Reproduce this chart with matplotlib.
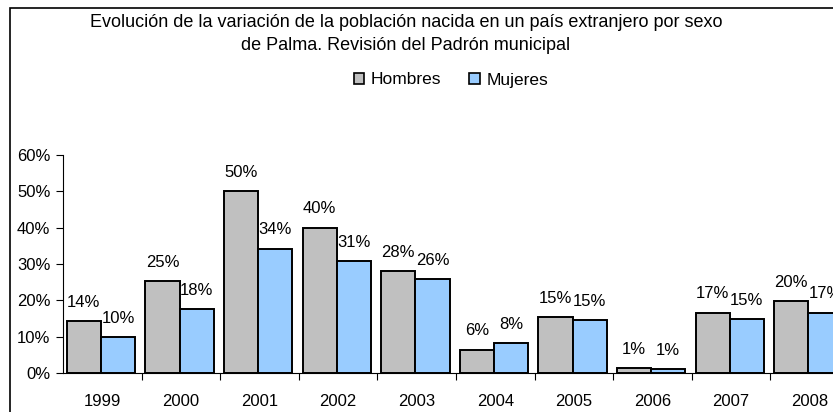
import matplotlib
matplotlib.use("Agg")
import matplotlib.pyplot as plt
from matplotlib.patches import Rectangle, Patch

# ---
# Data (percent).
years = ["1999", "2000", "2001", "2002", "2003", "2004", "2005", "2006", "2007", "2008"]
hombres = [14.2, 25.2, 50.0, 40.0, 28.1, 6.4, 15.4, 1.4, 16.6, 19.8]
mujeres = [9.8, 17.6, 34.2, 30.7, 25.9, 8.2, 14.6, 1.0, 14.8, 16.6]
yticks = [0, 10, 20, 30, 40, 50, 60]

title = ("Evolución de la variación de la población nacida en un país extranjero por sexo\n"
         "de Palma. Revisión del Padrón municipal")

plt.rcParams["font.family"] = ["Liberation Sans", "DejaVu Sans"]

W, H = 833, 412
fig = plt.figure(figsize=(W / 100, H / 100), dpi=100)

# chart frame (cut off at right and bottom)
fig.patches.append(Rectangle((10 / W, -0.1), 1.2, 1 - 8 / H + 0.1, transform=fig.transFigure,
                             fill=False, edgecolor="black", linewidth=1.2))

# axes runs past the right edge, like the original crop
ax = fig.add_axes([63 / W, 39 / H, (849 - 63) / W, (373 - 155) / H])

x = list(range(len(years)))
bw = 0.435
xg = [i - 0.235 for i in x]
xb = [i + 0.2 for i in x]
ax.bar(xg, hombres, bw, color="#C0C0C0", edgecolor="black", linewidth=1.4, label="Hombres")
ax.bar(xb, mujeres, bw, color="#99CCFF", edgecolor="black", linewidth=1.4, label="Mujeres")

for xs, vals in [(xg, hombres), (xb, mujeres)]:
    for xi, v in zip(xs, vals):
        ax.annotate(f"{v:.0f}%", (xi, v), xytext=(0, 13.5), textcoords="offset points",
                    ha="center", va="center", fontsize=12, clip_on=False)

ax.set_xlim(-0.5, len(years) - 0.5)
ax.set_ylim(0, 60)
ax.set_yticks(yticks)
ax.set_yticklabels([f"{t}%" for t in yticks], fontsize=12)
ax.set_xticks(x)
ax.set_xticklabels(years, fontsize=12)
ax.set_xticks([i + 0.5 for i in x[:-1]], minor=True)
ax.tick_params(axis="x", which="major", length=0, pad=15)
ax.tick_params(axis="x", which="minor", length=5, direction="out", width=0.8)
ax.tick_params(axis="y", length=5, width=0.8, pad=4)
ax.spines["top"].set_visible(False)
ax.spines["right"].set_visible(False)
ax.spines["left"].set_linewidth(0.8)
ax.spines["bottom"].set_linewidth(0.8)

fig.text(406 / W, 1 - 34 / H, title, ha="center", va="center", fontsize=13, linespacing=1.5)

handles = [Patch(facecolor="#C0C0C0", edgecolor="black", linewidth=1.2),
           Patch(facecolor="#99CCFF", edgecolor="black", linewidth=1.2)]
fig.legend(handles, ["Hombres", "Mujeres"], loc="center", bbox_to_anchor=(451 / W, 1 - 80 / H),
           ncol=2, frameon=False, fontsize=12.5, handlelength=0.6, handleheight=0.6,
           handletextpad=0.4, columnspacing=1.6)

fig.savefig("out.png", dpi=100)
